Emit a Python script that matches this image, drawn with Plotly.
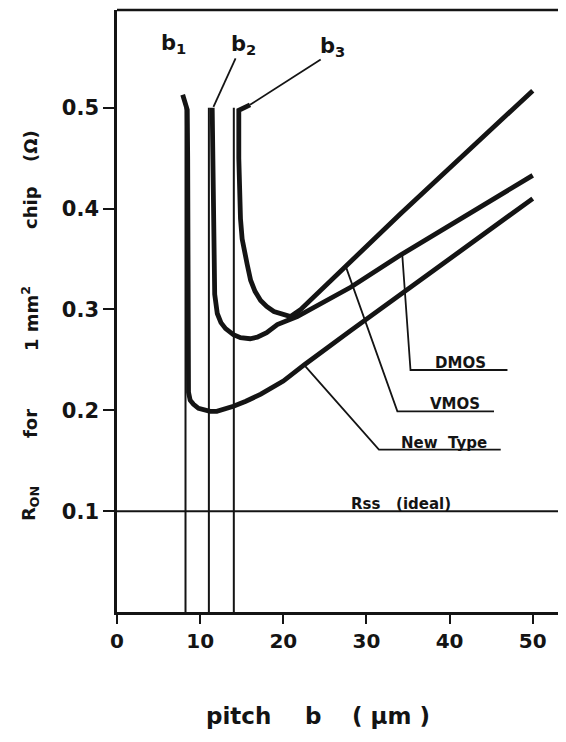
import plotly.graph_objects as go

# ---------------- data ----------------
# New Type curve (pitch b1)
newtype_x = [7.9, 8.2, 8.45, 8.5, 8.5, 8.52, 8.6, 8.8, 9.2, 9.8, 10.5, 11.2, 12.0, 13.0, 14.0, 15.5, 17.3, 20.0, 22.5, 28.1, 38.1, 50.0]
newtype_y = [0.513, 0.505, 0.498, 0.45, 0.35, 0.26, 0.218, 0.210, 0.206, 0.202, 0.200, 0.199, 0.199, 0.201, 0.204, 0.209, 0.216, 0.229, 0.245, 0.279, 0.339, 0.410]

# DMOS curve (pitch b2)
dmos_x = [11.45, 11.5, 11.55, 11.6, 11.75, 12.06, 12.5, 13.06, 14.0, 14.86, 16.0, 16.87, 18.0, 19.28, 21.68, 28.1, 34.1, 50.0]
dmos_y = [0.500, 0.46, 0.40, 0.34, 0.315, 0.296, 0.287, 0.281, 0.275, 0.272, 0.271, 0.2725, 0.277, 0.285, 0.293, 0.322, 0.354, 0.433]

# VMOS curve (pitch b3)
vmos_x = [16.0, 14.65, 14.65, 14.7, 14.85, 15.05, 15.3, 15.65, 16.07, 16.6, 17.27, 18.0, 18.87, 19.9, 20.88, 22.1, 28.1, 34.1, 50.0]
vmos_y = [0.503, 0.4975, 0.45, 0.42, 0.39, 0.37, 0.357, 0.345, 0.329, 0.318, 0.309, 0.303, 0.298, 0.295, 0.293, 0.300, 0.348, 0.395, 0.517]

# minimum pitches b1, b2, b3 (thin vertical guides)
pitch_names = ["b<sub>1</sub>", "b<sub>2</sub>", "b<sub>3</sub>"]
pitch_values = [8.24, 11.05, 14.05]
pitch_guide_top = [0.50, 0.50, 0.50]

# ideal resistance level
ideal_label = "Rss\u00a0\u00a0\u00a0(ideal)"
ideal_value = 0.1

# tick labels
x_ticks = [0, 10, 20, 30, 40, 50]
y_ticks = [0.1, 0.2, 0.3, 0.4, 0.5]
y_tick_text = ["0.1", "0.2", "0.3", "0.4", "0.5"]

# curve labels and their leader lines (x, y in data units)
curve_labels = ["DMOS", "VMOS", "New\u00a0\u00a0Type"]
leader_x = [[34.3, 35.3, 46.96], [27.5, 33.72, 45.34], [22.5, 31.5, 46.15]]
leader_y = [[0.355, 0.240, 0.240], [0.343, 0.199, 0.199], [0.245, 0.161, 0.161]]
label_x = [41.3, 40.7, 39.3]

# pitch label positions and leaders
pitch_label_x = [6.8, 15.26, 25.9]
pitch_label_y = [0.5636, 0.562, 0.560]
b_leader_x = [[11.6, 14.26], [16.0, 24.5]]
b_leader_y = [[0.501, 0.549], [0.503, 0.548]]

# axis title words (placed word by word like the original)
y_words = ["(Ω)", "chip", "1\u00a0mm<sup>2</sup>", "for", "R<sub>ON</sub>"]
y_word_px = [146, 208, 319, 424, 504]          # vertical centre on the page
x_words = ["pitch", "b", "(\u00a0μm\u00a0)"]
x_word_px = [238, 313, 391]                    # horizontal centre on the page
x_title_py = 716

# ---------------- figure ----------------
INK = "#141414"
FONT = "DejaVu Sans"

# page geometry (the page body has an 8 px margin)
PLOT_L, PLOT_T, PLOT_R, PLOT_B = 117, 10, 566, 612
W, H = 558, 726

def paper_x(px):
    return (px - PLOT_L) / (PLOT_R - PLOT_L)

def paper_y(py):
    return (PLOT_B - py) / (PLOT_B - PLOT_T)

fig = go.Figure()

# thin guides
for xv, top in zip(pitch_values, pitch_guide_top):
    fig.add_trace(go.Scatter(x=[xv, xv], y=[0, top], mode="lines",
                             line=dict(color=INK, width=2), hoverinfo="skip", showlegend=False))

# leaders
for lx, ly in zip(leader_x, leader_y):
    fig.add_trace(go.Scatter(x=lx, y=ly, mode="lines",
                             line=dict(color=INK, width=1.8), hoverinfo="skip", showlegend=False))
for lx, ly in zip(b_leader_x, b_leader_y):
    fig.add_trace(go.Scatter(x=lx, y=ly, mode="lines",
                             line=dict(color=INK, width=1.8), hoverinfo="skip", showlegend=False))

# main curves
for cx, cy, nm in [(newtype_x, newtype_y, "New Type"), (dmos_x, dmos_y, "DMOS"), (vmos_x, vmos_y, "VMOS")]:
    fig.add_trace(go.Scatter(x=cx, y=cy, mode="lines", name=nm,
                             line=dict(color=INK, width=4.8), showlegend=False))

# ideal line
fig.add_shape(type="line", xref="paper", yref="y", x0=0, x1=1, y0=ideal_value, y1=ideal_value,
              line=dict(color=INK, width=2))

# curve labels (sitting on their leader lines)
for txt, lx, ly in zip(curve_labels, label_x, leader_y):
    fig.add_annotation(x=lx, y=ly[-1], text=txt, showarrow=False, xanchor="center",
                       yanchor="bottom", yshift=-4,
                       font=dict(family=FONT, size=15, color=INK, weight="bold"))
fig.add_annotation(x=34.1, y=ideal_value, text=ideal_label, showarrow=False, xanchor="center",
                   yanchor="bottom", yshift=-4,
                   font=dict(family=FONT, size=15, color=INK, weight="bold"))

for txt, px, py in zip(pitch_names, pitch_label_x, pitch_label_y):
    fig.add_annotation(x=px, y=py, text=txt, showarrow=False, xanchor="center", yanchor="middle",
                       font=dict(family=FONT, size=21, color=INK, weight="bold"))

for w, yp in zip(y_words, y_word_px):
    fig.add_annotation(xref="paper", yref="paper", x=paper_x(30), y=paper_y(yp), text=w,
                       textangle=-90, showarrow=False, xanchor="center", yanchor="middle",
                       font=dict(family=FONT, size=18, color=INK, weight="bold"))

for w, xp in zip(x_words, x_word_px):
    fig.add_annotation(xref="paper", yref="paper", x=paper_x(xp), y=paper_y(x_title_py), text=w,
                       showarrow=False, xanchor="center", yanchor="middle",
                       font=dict(family=FONT, size=23, color=INK, weight="bold"))

fig.update_layout(
    width=W, height=H, autosize=False,
    margin=dict(l=PLOT_L - 8, r=0, t=PLOT_T - 8, b=H - (PLOT_B - 8)),
    paper_bgcolor="white", plot_bgcolor="white",
    showlegend=False,
    xaxis=dict(range=[0, 54], tickvals=x_ticks, ticks="outside", ticklen=9, tickwidth=2,
               tickcolor=INK, showline=True, linewidth=2.5, linecolor=INK, mirror=False,
               showgrid=False, zeroline=False, ticklabelstandoff=0,
               tickfont=dict(family=FONT, size=20, color=INK, weight="bold")),
    yaxis=dict(range=[0, 0.597], tickvals=y_ticks, ticktext=y_tick_text, ticks="outside", ticklen=11,
               tickwidth=2, tickcolor=INK, showline=True, linewidth=2.5, linecolor=INK,
               showgrid=False, zeroline=False,
               tickfont=dict(family=FONT, size=21, color=INK, weight="bold")),
)

# top border
fig.add_shape(type="line", xref="paper", yref="paper", x0=0, x1=1, y0=1, y1=1,
              line=dict(color=INK, width=2.5))

fig.write_html("out.html")
